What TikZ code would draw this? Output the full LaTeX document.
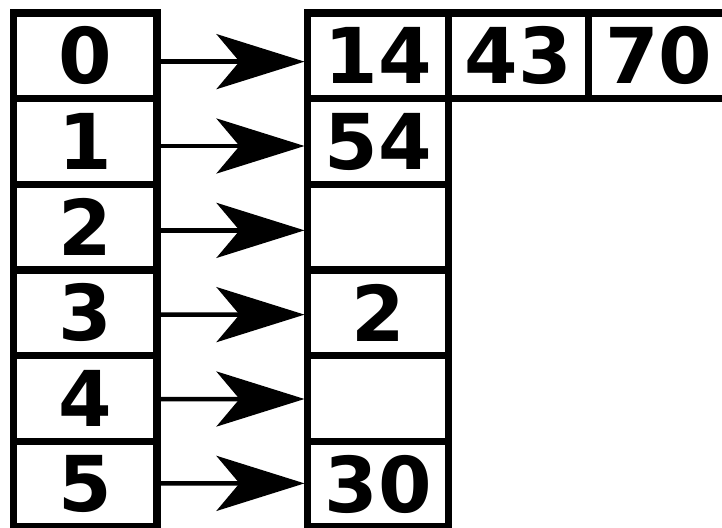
\documentclass[tikz,border=0pt]{standalone}
\usepackage{fontspec}
\setmainfont{DejaVu Sans}
\usetikzlibrary{arrows.meta}
\tikzset{
  cell/.style={draw=black, line width=7.5pt, inner sep=0pt, outer sep=0pt,
    minimum height=85.67pt, font=\fontsize{77}{77}\selectfont\bfseries},
  lcell/.style={cell, minimum width=143.5pt},
  rcell/.style={cell, minimum width=141pt},
  arr/.style={line width=4.5pt, shorten >=3pt,
    -{Stealth[length=88pt, width=55pt, inset=23pt]}}
}
\begin{document}
\begin{tikzpicture}[x=1pt, y=-1pt]
\useasboundingbox (0,0) rectangle (722,527);
% left column
\foreach \i in {0,...,5} {
  \node[lcell] (L\i) at (85.25, 55.83+85.67*\i) {\i};
}
% right column
\node[rcell] (R0) at (378, 55.83) {14};
\node[rcell] (R1) at (378, 141.5) {54};
\node[rcell] (R2) at (378, 227.17) {};
\node[rcell] (R3) at (378, 312.83) {2};
\node[rcell] (R4) at (378, 398.5) {};
\node[rcell] (R5) at (378, 484.17) {30};
% row 0 extension
\node[cell, minimum width=140pt] (C1) at (518.5, 55.83) {43};
\node[cell, minimum width=140.5pt] (C2) at (658.75, 55.83) {70};
% arrows
\draw[arr] ([yshift=-5.8pt]L0.east) -- ([yshift=-5.8pt]R0.west);
\draw[arr] ([yshift=-4.5pt]L1.east) -- ([yshift=-4.5pt]R1.west);
\draw[arr] ([yshift=-3.2pt]L2.east) -- ([yshift=-3.2pt]R2.west);
\draw[arr] ([yshift=-1.8pt]L3.east) -- ([yshift=-1.8pt]R3.west);
\draw[arr] ([yshift=-0.5pt]L4.east) -- ([yshift=-0.5pt]R4.west);
\draw[arr] ([yshift=0.8pt]L5.east) -- ([yshift=0.8pt]R5.west);
\end{tikzpicture}
\end{document}
